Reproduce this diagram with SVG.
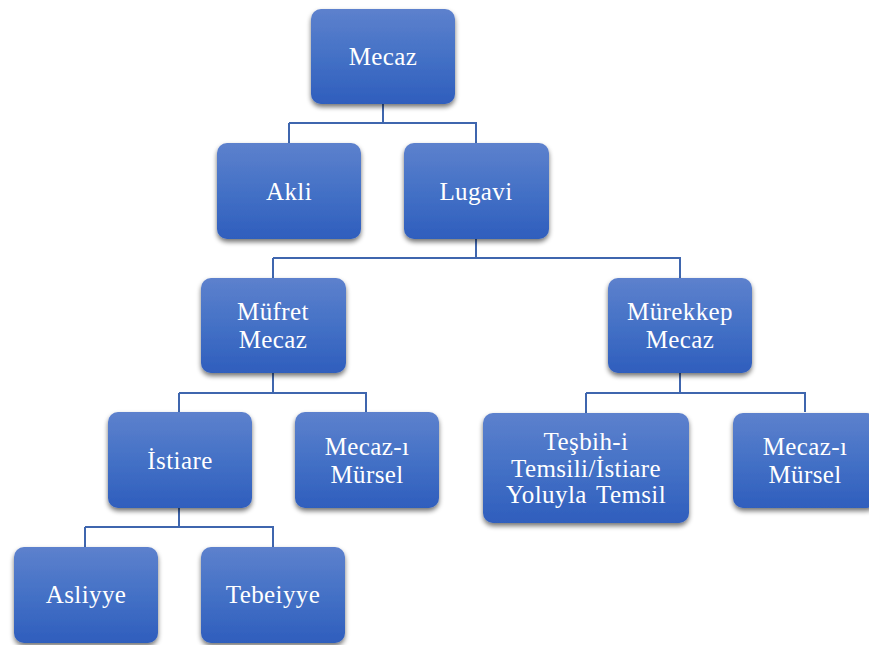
<svg xmlns="http://www.w3.org/2000/svg" width="869" height="645" viewBox="0 0 869 645">
  <defs>
    <linearGradient id="boxFill" x1="0" y1="0" x2="0" y2="1">
      <stop offset="0" stop-color="#5d81cd"/>
      <stop offset="0.5" stop-color="#4471c6"/>
      <stop offset="1" stop-color="#2f5ebd"/>
    </linearGradient>
    <filter id="shadow" x="-10%" y="-10%" width="125%" height="130%">
      <feGaussianBlur in="SourceAlpha" stdDeviation="2.5"/>
      <feOffset dx="0" dy="3" result="b"/>
      <feComponentTransfer><feFuncA type="linear" slope="0.55"/></feComponentTransfer>
      <feMerge><feMergeNode/><feMergeNode in="SourceGraphic"/></feMerge>
    </filter>
  </defs>
  <style>
    .box { fill: url(#boxFill); filter: url(#shadow); }
    .lbl { fill: #ffffff; font-family: "Liberation Serif", "Times New Roman", serif; font-size: 25px; letter-spacing: 0.4px; text-anchor: middle; }
    .conn { fill: none; stroke: #3f66ae; stroke-width: 2; }
  </style>
  <rect width="869" height="645" fill="#ffffff"/>

  <g id="connectors">
    <path class="conn" d="M383,104 V123 M289,123 H477 M289,123 V143 M476,123 V143"/>
    <path class="conn" d="M476,239 V258 M273,258 H681 M273,258 V278 M680,258 V278"/>
    <path class="conn" d="M273,373 V393 M179,393 H367 M179,393 V412 M366,393 V412"/>
    <path class="conn" d="M680,373 V393 M586,393 H806 M586,393 V413 M805,393 V412"/>
    <path class="conn" d="M179,508 V527 M85,527 H274 M85,527 V547 M273,527 V547"/>
  </g>

  <g id="mecaz">
    <rect class="box" x="311" y="9" width="144" height="95" rx="10"/>
    <text class="lbl" x="383" y="65">Mecaz</text>
  </g>
  <g id="akli">
    <rect class="box" x="217" y="143" width="144" height="96" rx="10"/>
    <text class="lbl" x="289" y="200">Akli</text>
  </g>
  <g id="lugavi">
    <rect class="box" x="404" y="143" width="145" height="96" rx="10"/>
    <text class="lbl" x="476" y="200">Lugavi</text>
  </g>
  <g id="mufret">
    <rect class="box" x="201" y="278" width="145" height="95" rx="10"/>
    <text class="lbl" x="273" y="320">Müfret</text>
    <text class="lbl" x="273" y="348">Mecaz</text>
  </g>
  <g id="murekkep">
    <rect class="box" x="608" y="278" width="144" height="95" rx="10"/>
    <text class="lbl" x="680" y="320">Mürekkep</text>
    <text class="lbl" x="680" y="348">Mecaz</text>
  </g>
  <g id="istiare">
    <rect class="box" x="108" y="412" width="144" height="96" rx="10"/>
    <text class="lbl" x="180" y="469">İstiare</text>
  </g>
  <g id="mursel1">
    <rect class="box" x="295" y="412" width="144" height="96" rx="10"/>
    <text class="lbl" x="367" y="455">Mecaz-ı</text>
    <text class="lbl" x="367" y="483">Mürsel</text>
  </g>
  <g id="tesbih">
    <rect class="box" x="483" y="413" width="206" height="110" rx="10"/>
    <text class="lbl" x="586" y="450">Teşbih-i</text>
    <text class="lbl" x="586" y="477">Temsili/İstiare</text>
    <text class="lbl" x="586" y="503" word-spacing="3">Yoluyla Temsil</text>
  </g>
  <g id="mursel2">
    <rect class="box" x="733" y="413" width="144" height="95" rx="10"/>
    <text class="lbl" x="805" y="455">Mecaz-ı</text>
    <text class="lbl" x="805" y="483">Mürsel</text>
  </g>
  <g id="asliyye">
    <rect class="box" x="14" y="547" width="144" height="96" rx="10"/>
    <text class="lbl" x="86" y="603">Asliyye</text>
  </g>
  <g id="tebeiyye">
    <rect class="box" x="201" y="547" width="144" height="96" rx="10"/>
    <text class="lbl" x="273" y="603">Tebeiyye</text>
  </g>
</svg>
